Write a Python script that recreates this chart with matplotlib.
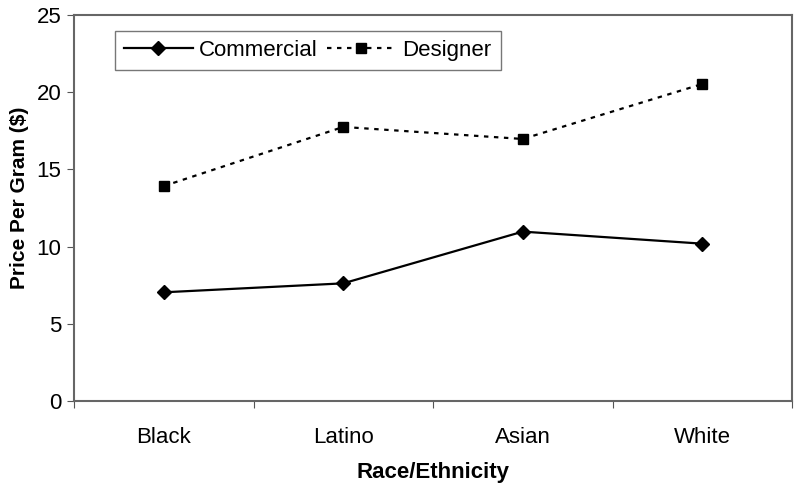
import matplotlib
matplotlib.use("Agg")
import matplotlib.pyplot as plt

categories = ["Black", "Latino", "Asian", "White"]
commercial = [7.04, 7.62, 10.97, 10.19]
designer = [13.92, 17.75, 16.97, 20.53]
yticks = [0, 5, 10, 15, 20, 25]

plt.rcParams['font.family'] = ['Liberation Sans', 'DejaVu Sans']

fig = plt.figure(figsize=(8, 4.93), dpi=100)
ax = fig.add_axes([0.0925, 0.1866, 0.8975, 0.783])

x = list(range(len(categories)))
ax.plot(x, commercial, color='black', lw=1.6, marker='D', markersize=7.5,
        label='Commercial')
ax.plot(x, designer, color='black', lw=1.6, linestyle=(0, (2, 2.5)), marker='s',
        markersize=7.5, label='Designer')

ax.set_xlim(-0.5, len(categories) - 0.5)
ax.set_ylim(0, 25)
ax.set_yticks(yticks)
ax.set_yticklabels([str(v) for v in yticks], fontsize=16)
ax.set_xticks([i - 0.5 for i in range(len(categories) + 1)])
ax.set_xticklabels([])
ax.set_xticks(x, minor=True)
ax.set_xticklabels(categories, minor=True, fontsize=16)
ax.tick_params(axis='x', which='minor', length=0, pad=19)
ax.tick_params(axis='x', which='major', length=5, color='#555555', direction='out')
ax.tick_params(axis='y', length=5, color='#555555', direction='out', pad=4)

for s in ax.spines.values():
    s.set_color('#666666')
    s.set_linewidth(1.5)

ax.set_xlabel('Race/Ethnicity', fontsize=16, fontweight='bold', labelpad=10)
ax.set_ylabel('Price Per Gram ($)', fontsize=15, fontweight='bold')
ax.yaxis.set_label_coords(-0.062, 0.526)

leg = ax.legend(loc='upper left', bbox_to_anchor=(0.057, 0.958), ncol=2,
                fontsize=16, frameon=True, fancybox=False, handlelength=3.1,
                columnspacing=0.4, handletextpad=0.3, borderpad=0.4,
                borderaxespad=0)
leg.get_frame().set_edgecolor('#555555')
leg.get_frame().set_linewidth(1.0)

fig.savefig('out.png', dpi=100)
